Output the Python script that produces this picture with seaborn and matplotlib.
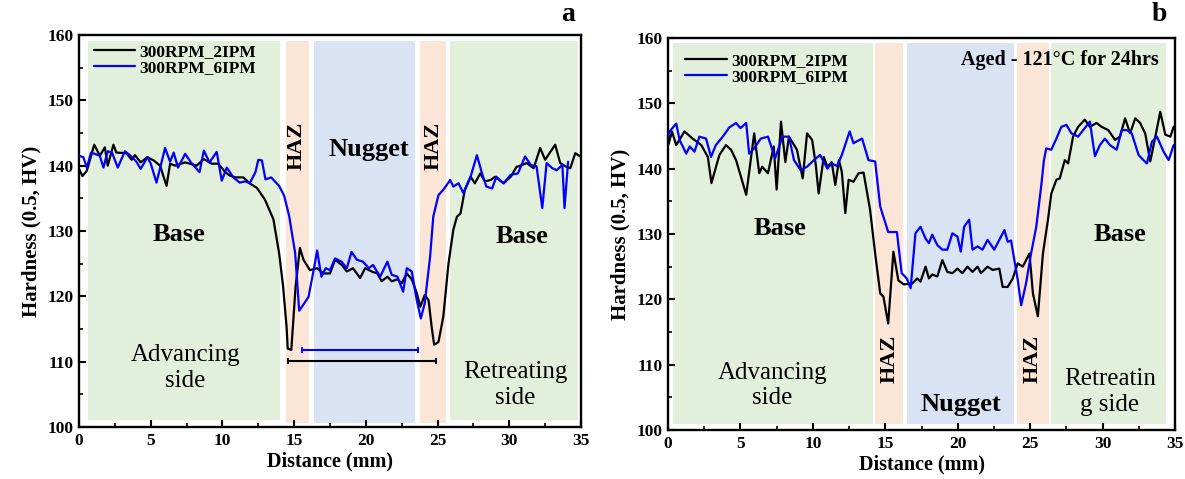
import matplotlib
matplotlib.use("Agg")
import matplotlib.pyplot as plt
from matplotlib.ticker import MultipleLocator
import seaborn as sns
import pandas as pd

# ---------------- data ----------------
series_names = ["300RPM_2IPM", "300RPM_6IPM"]
series_colors = ["#000000", "#0000FF"]

# (a) as-welded
a_x_2ipm = [0.0, 0.24, 0.54, 1.06, 1.45, 1.8, 2.0, 2.4, 2.6, 3.3, 3.67, 3.9, 4.3, 4.77, 5.2, 5.65,
            6.1, 6.35, 6.7, 7.4, 8.2, 8.7, 9.25, 9.7, 10.2, 10.5, 10.9, 11.46, 11.9, 12.4, 12.96,
            13.55, 13.95, 14.23, 14.47, 14.55, 14.8, 15.1, 15.4, 15.65, 16.1, 16.6, 17.04, 17.5,
            17.85, 18.32, 18.67, 19.1, 19.6, 19.95, 20.4, 20.8, 21.1, 21.5, 21.8, 22.2, 22.5,
            22.85, 23.2, 23.55, 23.8, 24.1, 24.37, 24.6, 24.76, 25.06, 25.4, 25.76, 26.1, 26.35,
            26.6, 26.9, 27.3, 27.6, 27.97, 28.3, 28.7, 29.0, 29.6, 30.1, 30.5, 30.9, 31.2, 31.7,
            32.15, 32.5, 32.86, 33.2, 33.55, 33.9, 34.25, 34.6, 34.95]
a_y_2ipm = [139.5, 138.4, 139.2, 143.2, 141.5, 142.8, 140.0, 143.2, 142.0, 141.9, 140.9, 141.6,
            140.5, 141.3, 140.8, 140.0, 136.9, 140.3, 140.0, 140.5, 140.0, 141.0, 140.3, 140.3,
            139.0, 138.5, 138.2, 138.2, 137.3, 136.6, 134.8, 131.8, 126.6, 121.5, 115.3, 112.0,
            111.8, 121.5, 127.4, 125.6, 124.0, 124.3, 123.5, 123.5, 125.6, 124.8, 123.8, 124.3,
            122.8, 124.3, 123.8, 123.5, 122.3, 123.0, 122.3, 122.6, 122.0, 123.5, 122.6, 120.5,
            118.4, 120.2, 119.4, 115.1, 112.6, 113.0, 116.9, 125.0, 130.2, 132.2, 132.7, 136.3,
            138.3, 137.3, 138.8, 137.6, 137.8, 138.3, 137.3, 138.3, 139.8, 140.1, 140.4, 139.6,
            142.7, 140.9, 142.1, 143.2, 140.4, 139.9, 139.6, 141.9, 141.4]

a_x_6ipm = [0.0, 0.3, 0.54, 0.84, 1.1, 1.45, 1.7, 2.0, 2.3, 2.7, 3.2, 3.6, 4.0, 4.3, 4.77, 5.0,
            5.4, 6.0, 6.35, 6.6, 6.9, 7.4, 7.8, 8.4, 8.7, 9.1, 9.6, 9.95, 10.3, 10.76, 11.2, 11.6,
            11.9, 12.3, 12.5, 12.75, 13.0, 13.4, 13.95, 14.3, 14.65, 15.07, 15.35, 15.6, 16.0,
            16.4, 16.6, 16.9, 17.2, 17.5, 17.85, 18.3, 18.67, 19.0, 19.37, 19.8, 20.2, 20.5,
            20.99, 21.5, 21.8, 22.2, 22.6, 22.85, 23.2, 23.55, 23.83, 24.1, 24.48, 24.7, 25.06,
            25.4, 25.88, 26.1, 26.46, 26.8, 27.3, 27.74, 28.1, 28.4, 28.8, 29.1, 29.6, 30.1,
            30.6, 31.1, 31.5, 31.9, 32.3, 32.6, 33.0, 33.3, 33.7, 33.85, 34.1]
a_y_6ipm = [141.5, 141.3, 139.7, 142.0, 141.8, 141.5, 139.7, 142.2, 142.0, 139.7, 142.2, 141.5,
            140.6, 139.5, 141.3, 140.3, 137.4, 142.7, 140.6, 142.0, 139.7, 141.8, 140.5, 139.0,
            142.3, 140.5, 142.1, 137.7, 139.7, 138.2, 137.4, 137.6, 137.3, 139.0, 140.9, 140.8,
            137.9, 138.2, 136.9, 135.4, 132.3, 126.6, 117.8, 118.6, 119.9, 124.5, 127.0, 123.0,
            124.3, 124.0, 125.8, 125.3, 124.3, 126.8, 125.6, 125.3, 124.3, 124.8, 123.0, 125.3,
            123.3, 123.0, 120.7, 124.3, 123.8, 119.4, 116.6, 118.9, 126.1, 132.2, 135.5, 136.3,
            137.8, 136.8, 137.3, 135.8, 138.3, 141.6, 138.8, 136.8, 136.5, 138.3, 137.3, 138.6,
            138.8, 141.4, 140.1, 139.9, 133.5, 140.4, 139.6, 139.3, 140.1, 133.5, 140.6]

# (b) aged 121 C / 24 h
b_x_2ipm = [0.05, 0.27, 0.57, 1.14, 1.7, 2.3, 2.75, 3.0, 3.55, 4.0, 4.35, 4.7, 5.4, 5.95, 6.3,
            6.5, 6.9, 7.3, 7.5, 7.8, 8.1, 8.35, 8.9, 9.3, 9.6, 9.95, 10.2, 10.4, 10.75, 11.0,
            11.3, 11.55, 11.8, 12.0, 12.24, 12.47, 12.8, 13.16, 13.5, 13.95, 14.3, 14.65, 14.87,
            15.2, 15.56, 15.9, 16.27, 16.85, 17.2, 17.43, 17.78, 18.01, 18.24, 18.59, 18.94,
            19.28, 19.63, 19.98, 20.32, 20.67, 21.02, 21.37, 21.6, 22.06, 22.41, 22.87, 23.1,
            23.45, 23.8, 24.14, 24.49, 24.95, 25.19, 25.53, 25.88, 26.23, 26.46, 26.81, 27.04,
            27.39, 27.62, 27.96, 28.31, 28.77, 29.12, 29.58, 29.93, 30.39, 30.86, 31.2, 31.55,
            31.9, 32.25, 32.59, 32.94, 33.29, 33.64, 33.98, 34.33, 34.68, 34.9]
b_y_2ipm = [143.8, 145.7, 143.6, 145.7, 144.6, 143.6, 141.8, 137.8, 142.1, 143.6, 142.9, 141.3,
            136.0, 145.4, 139.3, 140.3, 139.3, 143.4, 136.8, 147.2, 141.0, 144.9, 142.9, 138.5,
            145.4, 144.4, 140.6, 136.2, 141.8, 140.3, 141.0, 137.5, 141.3, 139.5, 133.2, 138.3,
            138.0, 139.3, 139.4, 133.7, 127.0, 120.9, 120.4, 116.3, 127.3, 122.9, 122.3, 122.4,
            123.2, 122.7, 125.0, 123.2, 123.8, 123.5, 126.0, 124.2, 124.0, 124.7, 124.0, 125.0,
            124.2, 125.0, 124.0, 125.0, 124.5, 124.7, 121.9, 121.9, 123.2, 125.5, 125.0, 127.0,
            120.9, 117.4, 127.0, 132.2, 136.2, 138.3, 138.5, 141.3, 140.8, 144.9, 146.4, 147.5,
            146.4, 147.0, 146.4, 145.9, 144.4, 144.9, 147.7, 145.4, 147.7, 147.0, 145.4, 141.1,
            144.9, 148.7, 145.2, 144.9, 146.4]

b_x_6ipm = [0.0, 0.11, 0.57, 0.8, 1.26, 1.5, 1.83, 2.17, 2.63, 2.97, 3.3, 3.78, 4.23, 4.7, 5.0,
            5.4, 5.6, 5.95, 6.4, 6.9, 7.4, 7.9, 8.35, 8.7, 9.15, 9.6, 10.07, 10.5, 11.0, 11.3,
            11.67, 12.0, 12.54, 12.8, 13.4, 13.84, 14.3, 14.65, 15.2, 15.8, 16.13, 16.48, 16.75,
            17.08, 17.43, 17.78, 18.01, 18.24, 18.59, 18.94, 19.28, 19.63, 19.98, 20.21, 20.44,
            20.79, 21.02, 21.37, 21.71, 22.06, 22.52, 22.87, 23.22, 23.45, 23.68, 23.91, 24.14,
            24.38, 24.72, 25.07, 25.42, 25.76, 25.95, 26.11, 26.46, 26.81, 27.15, 27.5, 27.85,
            28.31, 28.66, 29.12, 29.47, 29.81, 30.16, 30.51, 30.97, 31.32, 31.67, 32.01, 32.48,
            32.82, 33.06, 33.4, 33.75, 34.21, 34.56, 34.9]
b_y_6ipm = [145.0, 145.7, 146.9, 144.4, 142.3, 143.4, 142.6, 144.9, 144.6, 141.8, 143.6, 144.9,
            146.3, 147.0, 146.2, 147.0, 142.3, 143.1, 144.6, 144.9, 141.6, 144.9, 144.9, 141.3,
            139.8, 140.3, 141.3, 142.1, 140.0, 140.8, 140.4, 142.1, 145.7, 143.9, 144.6, 141.3,
            141.1, 134.2, 130.3, 130.3, 124.0, 123.2, 121.7, 130.1, 131.1, 129.3, 128.6, 129.9,
            128.3, 127.6, 127.6, 130.1, 129.6, 127.3, 131.1, 132.2, 127.6, 128.1, 127.6, 129.1,
            127.6, 129.1, 130.6, 128.8, 129.0, 126.0, 123.0, 119.1, 122.5, 127.1, 131.1, 137.3,
            141.3, 143.1, 142.9, 144.6, 146.4, 146.7, 145.4, 144.9, 145.9, 147.2, 141.9, 143.6,
            144.6, 143.6, 142.9, 145.9, 145.9, 145.4, 142.1, 141.3, 140.8, 144.1, 144.9, 142.6,
            141.3, 143.6]

# zone bands: (start, end, bottom, top, colour)
zone_green, zone_orange, zone_blue = "#E2EFDA", "#FBE5D6", "#DAE3F3"
a_zones = [(0.63, 14.0, 101.1, 159.1, zone_green), (14.4, 16.0, 100.6, 159.1, zone_orange),
           (16.35, 23.4, 100.6, 159.1, zone_blue), (23.75, 25.6, 100.6, 159.1, zone_orange),
           (25.85, 34.8, 101.1, 159.1, zone_green)]
b_zones = [(0.38, 14.18, 100.9, 159.2, zone_green), (14.31, 16.22, 100.9, 159.2, zone_orange),
           (16.47, 23.88, 100.9, 159.2, zone_blue), (24.09, 26.29, 100.9, 159.2, zone_orange),
           (26.47, 34.37, 100.9, 159.2, zone_green)]

# nugget-width bars in (a): (start, end, level, colour)
a_width_bars = [(15.55, 23.6, 111.8, "#0000FF"), (14.6, 24.9, 110.1, "#000000")]

x_label = "Distance (mm)"
y_label = "Hardness (0.5, HV)"

# ---------------- style ----------------
sns.set_theme(style="ticks")
plt.rcParams["font.family"] = ["Liberation Serif", "DejaVu Serif"]
plt.rcParams["font.weight"] = "bold"
plt.rcParams["axes.labelweight"] = "bold"
for key in ["text.color", "axes.labelcolor", "xtick.color", "ytick.color", "axes.edgecolor"]:
    plt.rcParams[key] = "black"

fig = plt.figure(figsize=(11.85, 4.79), dpi=100)
ax_a = fig.add_axes([0.0667, 0.1086, 0.4236, 0.8184])
ax_b = fig.add_axes([0.5637, 0.1023, 0.4279, 0.8184])


def build_panel(ax, xs, ys, zones):
    for (x0, x1, y0, y1, c) in zones:
        ax.axvspan(x0, x1, ymin=(y0 - 100) / 60, ymax=(y1 - 100) / 60,
                   facecolor=c, edgecolor="none", zorder=0)
    for name, col, x, y in zip(series_names, series_colors, xs, ys):
        df = pd.DataFrame({"x": x, "y": y})
        sns.lineplot(data=df, x="x", y="y", ax=ax, color=col, lw=1.6,
                     estimator=None, sort=False, label=name, zorder=3)
    ax.set_xlim(0, 35)
    ax.set_ylim(100, 160)
    ax.xaxis.set_major_locator(MultipleLocator(5))
    ax.xaxis.set_minor_locator(MultipleLocator(2.5))
    ax.yaxis.set_major_locator(MultipleLocator(10))
    ax.yaxis.set_minor_locator(MultipleLocator(5))
    ax.tick_params(which="major", direction="in", length=5, width=1.5,
                   labelsize=12.5, pad=4, top=False, right=False, colors="black")
    ax.tick_params(which="minor", direction="in", length=3, width=1.2,
                   top=False, right=False)
    for lab in ax.get_xticklabels() + ax.get_yticklabels():
        lab.set_fontweight("bold")
    for sp in ax.spines.values():
        sp.set_linewidth(1.7)
        sp.set_color("black")
    ax.set_xlabel(x_label, fontsize=14.5, fontweight="bold", labelpad=2, color="black")
    ax.set_ylabel(y_label, fontsize=15, fontweight="bold", labelpad=4, color="black")
    ax.set_facecolor("white")


build_panel(ax_a, [a_x_2ipm, a_x_6ipm], [a_y_2ipm, a_y_6ipm], a_zones)
build_panel(ax_b, [b_x_2ipm, b_x_6ipm], [b_y_2ipm, b_y_6ipm], b_zones)

leg_kw = dict(frameon=False, handlelength=2.4, handletextpad=0.25,
              labelspacing=0.0, borderaxespad=0.0, labelcolor="black",
              prop={"weight": "bold", "size": 12.5})
ax_a.legend(loc="upper left", bbox_to_anchor=(0.015, 0.995), **leg_kw)
ax_b.legend(loc="upper left", bbox_to_anchor=(0.02, 0.98), **leg_kw)

for (x0, x1, lvl, c) in a_width_bars:
    ax_a.plot([x0, x1], [lvl, lvl], color=c, lw=1.5, zorder=3)
    ax_a.plot([x0, x1], [lvl, lvl], ls="none", marker="|", ms=5, mew=1.3, color=c, zorder=3)

# zone labels, panel (a)
ax_a.text(6.97, 129.4, "Base", fontsize=19, fontweight="bold", ha="center", va="center")
ax_a.text(30.9, 129.1, "Base", fontsize=19, fontweight="bold", ha="center", va="center")
ax_a.text(20.2, 142.4, "Nugget", fontsize=19, fontweight="bold", ha="center", va="center")
ax_a.text(15.15, 143.0, "HAZ", fontsize=16, fontweight="bold", ha="center", va="center",
          rotation=90)
ax_a.text(24.7, 143.0, "HAZ", fontsize=16, fontweight="bold", ha="center", va="center",
          rotation=90)
ax_a.text(7.4, 109.0, "Advancing\nside", fontsize=18, fontweight="normal", ha="center",
          va="center", linespacing=1.2)
ax_a.text(30.4, 106.4, "Retreating\nside", fontsize=18, fontweight="normal", ha="center",
          va="center", linespacing=1.2)

# zone labels, panel (b)
ax_b.text(7.7, 130.9, "Base", fontsize=19, fontweight="bold", ha="center", va="center")
ax_b.text(31.2, 129.9, "Base", fontsize=19, fontweight="bold", ha="center", va="center")
ax_b.text(20.2, 103.9, "Nugget", fontsize=19, fontweight="bold", ha="center", va="center")
ax_b.text(15.3, 110.9, "HAZ", fontsize=16, fontweight="bold", ha="center", va="center",
          rotation=90)
ax_b.text(25.2, 110.9, "HAZ", fontsize=16, fontweight="bold", ha="center", va="center",
          rotation=90)
ax_b.text(7.2, 106.8, "Advancing\nside", fontsize=18, fontweight="normal", ha="center",
          va="center", linespacing=1.2)
ax_b.text(30.5, 105.8, "Retreatin\ng side", fontsize=18, fontweight="normal", ha="center",
          va="center", linespacing=1.2)
ax_b.text(27.05, 156.6, "Aged - 121\u00b0C for 24hrs", fontsize=14.5, fontweight="bold",
          ha="center", va="center")

fig.text(0.479, 0.969, "a", fontsize=20, fontweight="bold", ha="center", va="center")
fig.text(0.978, 0.969, "b", fontsize=20, fontweight="bold", ha="center", va="center")

fig.savefig("out.png", dpi=100, facecolor="white")
